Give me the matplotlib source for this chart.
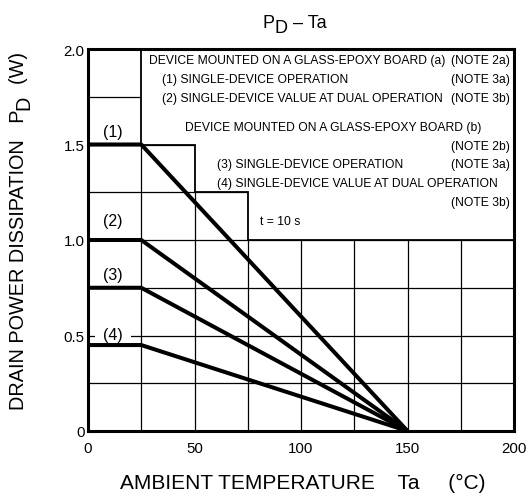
import numpy as np
import matplotlib
matplotlib.use("Agg")
import matplotlib.pyplot as plt

plt.rcParams['font.family'] = ['Liberation Sans', 'DejaVu Sans']

W, H = 530, 502

# derating curves: Ta points and PD on the flat part
ta = [0, 25, 150]
pd_max = {'(1)': 1.5, '(2)': 1.0, '(3)': 0.75, '(4)': 0.45}
label_y = {'(1)': 1.57, '(2)': 1.10, '(3)': 0.82, '(4)': 0.505}

xticks = [0, 50, 100, 150, 200]
yticks = [0, 0.5, 1.0, 1.5, 2.0]
ytick_labels = ['0', '0.5', '1.0', '1.5', '2.0']

# white note box (staircase outline)
box_x = [25, 25, 50, 50, 75, 75, 200, 200]
box_y = [2.0, 1.5, 1.5, 1.25, 1.25, 1.0, 1.0, 2.0]

notes = [
    (28.6, 1.942, 'DEVICE MOUNTED ON A GLASS-EPOXY BOARD (a)', '(NOTE 2a)'),
    (34.6, 1.843, '(1) SINGLE-DEVICE OPERATION', '(NOTE 3a)'),
    (34.6, 1.743, '(2) SINGLE-DEVICE VALUE AT DUAL OPERATION', '(NOTE 3b)'),
    (45.5, 1.592, 'DEVICE MOUNTED ON A GLASS-EPOXY BOARD (b)', None),
    (None, 1.492, None, '(NOTE 2b)'),
    (60.4, 1.398, '(3) SINGLE-DEVICE OPERATION', '(NOTE 3a)'),
    (60.4, 1.298, '(4) SINGLE-DEVICE VALUE AT DUAL OPERATION', None),
    (None, 1.199, None, '(NOTE 3b)'),
]

fig = plt.figure(figsize=(W / 100, H / 100), dpi=100)
ax = fig.add_axes([88 / W, (H - 432) / H, 426 / W, 382 / H])
ax.set_xlim(0, 200)
ax.set_ylim(0, 2.0)

for gx in np.arange(25, 200, 25):
    ax.axvline(gx, color='black', lw=0.9, zorder=1)
for gy in np.arange(0.25, 2.0, 0.25):
    ax.axhline(gy, color='black', lw=0.9, zorder=1)

ax.fill(box_x, box_y, facecolor='white', edgecolor='black', lw=1.3, zorder=2)

for name, p in pd_max.items():
    ax.plot(ta, [p, p, 0], color='black', lw=2.9, zorder=3, solid_capstyle='butt')
    bb = dict(facecolor='white', edgecolor='none', pad=6) if name == '(4)' else None
    ax.text(11.7, label_y[name], name, ha='center', va='center', fontsize=11.5,
            zorder=2.5, bbox=bb)

fs_note = 8.7
for x, y, txt, note in notes:
    if txt:
        ax.text(x, y, txt, ha='left', va='center', fontsize=fs_note, zorder=4)
    if note:
        ax.text(198.1, y, note, ha='right', va='center', fontsize=fs_note, zorder=4)

ax.text(80.8, 1.099, 't = 10 s', ha='left', va='center', fontsize=fs_note, zorder=4)

ax.set_xticks(xticks)
ax.set_yticks(yticks)
ax.set_yticklabels(ytick_labels)
ax.tick_params(axis='both', length=0, labelsize=10.8)
ax.tick_params(axis='x', pad=7)
ax.tick_params(axis='y', pad=2.5)
for s in ax.spines.values():
    s.set_linewidth(2.2)
    s.set_zorder(5)

fig.canvas.draw()
rend = fig.canvas.get_renderer()


def chain(pieces, x0, y0, fs, rot=0):
    # pieces: (text, drop in px); drop lowers the baseline like a subscript
    pos = 0.0
    for txt, drop in pieces:
        if rot == 0:
            x, y = x0 + pos, y0 - drop
        else:
            x, y = x0 + drop, y0 + pos
        t = fig.text(x / W, y / H, txt, fontsize=fs, rotation=rot,
                     rotation_mode='anchor', ha='left', va='baseline')
        ext = t.get_window_extent(rend)
        pos += ext.width if rot == 0 else ext.height


# title
chain([('P', 0), ('D', 5), (' – Ta', 0)], 263, H - 28, 13)

# x label
fig.text(120 / W, 1 - 483 / H, 'AMBIENT TEMPERATURE    Ta     (°C)',
         ha='left', va='center', fontsize=15)

# y label, rotated, reading bottom to top
chain([('DRAIN POWER DISSIPATION   P', 0), ('D', 5), ('  (W)', 0)],
      24, H - 410, 14.3, rot=90)

fig.savefig('out.png', dpi=100)
